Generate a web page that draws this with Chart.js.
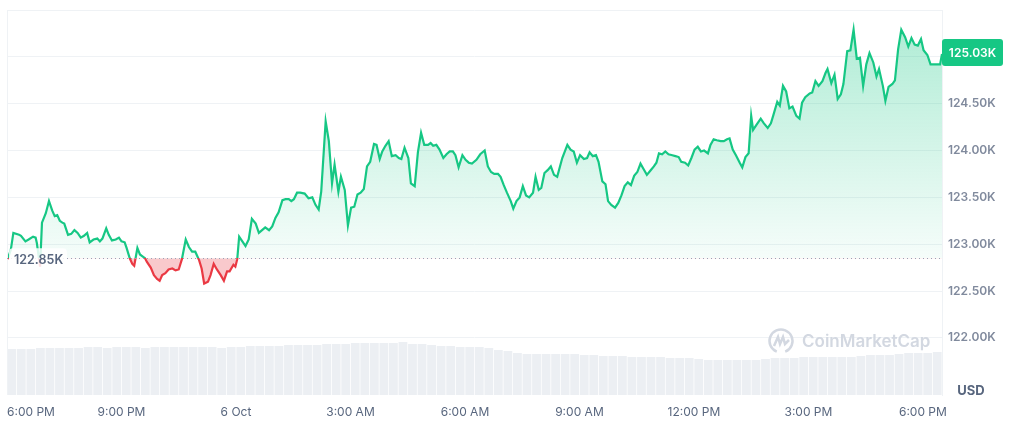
<!DOCTYPE html>
<html lang="en">
<head>
    <meta charset="UTF-8">
    <title>BTC 1D</title>
    <style>
        html, body { margin: 0; padding: 0; background: #fff; }
        .chartBox { width: 1023px; height: 422px; }
    </style>
</head>
<body>
    <div class="chartBox"><canvas id="chart"></canvas></div>

    <script src="https://cdn.jsdelivr.net/npm/chart.js"></script>
    <script>
        // minutes since 6:00 PM (day before)
        const times = [
            1, 6, 10, 19, 22, 29, 34, 41, 45, 47,
            52, 55, 61, 66, 71, 75, 79, 83, 87, 90,
            96, 101, 106, 111, 116, 121, 126, 130, 136, 142,
            146, 150, 156, 160, 165, 171, 176, 180, 185, 188,
            193, 197, 200, 205, 209, 213, 217, 220, 226, 231,
            236, 240, 244, 249, 254, 260, 265, 270, 275, 281,
            286, 291, 296, 302, 306, 310, 316, 320, 325, 330,
            336, 341, 346, 350, 356, 359, 362, 365, 370, 375,
            380, 385, 391, 396, 401, 406, 412, 417, 422, 427,
            433, 438, 443, 447, 451, 456, 461, 468, 474, 480,
            485, 490, 494, 501, 506, 511, 515, 521, 525, 531,
            536, 541, 546, 551, 556, 561, 566, 571, 577, 581,
            586, 590, 595, 600, 605, 611, 616, 620, 625, 631,
            635, 641, 646, 651, 656, 662, 666, 670, 675, 680,
            686, 691, 696, 701, 705, 710, 716, 721, 726, 731,
            738, 744, 751, 756, 761, 766, 772, 776, 781, 786,
            792, 796, 801, 806, 811, 816, 821, 827, 831, 836,
            840, 845, 850, 855, 860, 865, 873, 881, 886, 891,
            896, 901, 907, 912, 916, 921, 926, 930, 936, 941,
            945, 950, 956, 961, 966, 971, 976, 981, 986, 991,
            996, 1001, 1006, 1012, 1017, 1021, 1025, 1030, 1035, 1040,
            1046, 1051, 1056, 1060, 1066, 1071, 1076, 1081, 1086, 1091,
            1096, 1102, 1106, 1111, 1116, 1122, 1127, 1132, 1136, 1141,
            1146, 1152, 1156, 1161, 1166, 1170, 1173, 1178, 1185, 1190,
            1196, 1201, 1205, 1211, 1215, 1220, 1225, 1230, 1235, 1241,
            1246, 1250, 1255, 1262, 1266, 1271, 1276, 1282, 1287, 1290,
            1296, 1301, 1306, 1311, 1315, 1321, 1326, 1331, 1336, 1341,
            1346, 1351, 1356, 1362, 1367, 1371, 1377, 1381, 1386, 1392,
            1396, 1401, 1406, 1412, 1417, 1422, 1427, 1432, 1437, 1441,
            1447, 1452, 1457, 1462, 1467, 1470
        ];

        // price in thousands USD
        const prices = [
            122.84, 122.94, 123.12, 123.10, 123.09, 123.03, 123.05, 123.08, 123.07, 123.01,
            122.76, 123.23, 123.33, 123.46, 123.36, 123.30, 123.31, 123.25, 123.23, 123.22,
            123.10, 123.11, 123.15, 123.12, 123.07, 123.09, 123.12, 123.02, 123.05, 123.06,
            123.03, 123.06, 123.17, 123.10, 123.04, 123.05, 123.07, 123.03, 123.02, 122.96,
            122.85, 122.79, 122.77, 122.96, 122.89, 122.87, 122.85, 122.81, 122.75, 122.67,
            122.63, 122.61, 122.67, 122.69, 122.73, 122.74, 122.72, 122.73, 122.84, 123.05,
            122.97, 122.92, 122.92, 122.83, 122.74, 122.58, 122.60, 122.67, 122.79, 122.73,
            122.67, 122.61, 122.71, 122.71, 122.78, 122.76, 122.84, 123.08, 123.03, 122.98,
            123.05, 123.27, 123.22, 123.12, 123.15, 123.18, 123.15, 123.19, 123.28, 123.34,
            123.47, 123.48, 123.48, 123.46, 123.48, 123.55, 123.55, 123.54, 123.49, 123.50,
            123.42, 123.37, 123.56, 124.31, 124.10, 123.65, 123.85, 123.56, 123.72, 123.58,
            123.20, 123.39, 123.40, 123.53, 123.55, 123.59, 123.83, 123.88, 124.07, 124.06,
            123.91, 123.99, 124.05, 124.10, 123.94, 123.95, 123.92, 123.91, 124.03, 123.92,
            123.65, 123.62, 123.98, 124.19, 124.06, 124.06, 124.08, 124.05, 124.06, 124.01,
            123.92, 123.96, 123.99, 123.99, 123.95, 123.82, 123.95, 123.90, 123.87, 123.86,
            123.90, 123.96, 124.00, 123.83, 123.77, 123.75, 123.75, 123.72, 123.63, 123.55,
            123.46, 123.38, 123.46, 123.50, 123.62, 123.52, 123.50, 123.55, 123.72, 123.58,
            123.60, 123.76, 123.79, 123.83, 123.74, 123.72, 123.92, 124.06, 124.01, 123.99,
            123.87, 123.95, 123.91, 123.92, 123.98, 123.94, 123.95, 123.88, 123.67, 123.64,
            123.46, 123.42, 123.39, 123.44, 123.52, 123.62, 123.66, 123.63, 123.73, 123.77,
            123.86, 123.80, 123.74, 123.79, 123.83, 123.87, 123.97, 123.96, 123.99, 123.96,
            123.95, 123.94, 123.93, 123.88, 123.87, 123.84, 123.92, 124.01, 124.04, 123.99,
            124.00, 123.97, 124.06, 124.12, 124.11, 124.10, 124.10, 124.12, 124.13, 124.01,
            123.95, 123.87, 123.82, 123.93, 123.97, 124.37, 124.22, 124.27, 124.34, 124.29,
            124.24, 124.29, 124.38, 124.52, 124.48, 124.69, 124.63, 124.45, 124.47, 124.37,
            124.34, 124.51, 124.57, 124.61, 124.62, 124.74, 124.69, 124.74, 124.83, 124.87,
            124.72, 124.81, 124.55, 124.60, 124.71, 125.06, 125.07, 125.29, 124.98, 124.99,
            124.69, 124.92, 125.04, 124.94, 124.79, 124.87, 124.69, 124.53, 124.68, 124.71,
            124.75, 125.08, 125.29, 125.21, 125.11, 125.20, 125.13, 125.12, 125.19, 125.07,
            125.02, 124.92, 124.92, 124.92, 124.92, 125.03
        ];

        // 15 min volume bars, millions USD
        const volumes = [
            230, 230, 230, 235, 235, 235, 235, 235, 240, 240,
            235, 240, 240, 240, 235, 240, 240, 240, 240, 240,
            240, 240, 235, 240, 240, 245, 245, 245, 245, 250,
            250, 250, 250, 255, 255, 255, 260, 260, 260, 260,
            260, 265, 255, 255, 250, 245, 245, 240, 240, 240,
            235, 225, 220, 210, 205, 205, 205, 205, 205, 205,
            200, 200, 195, 195, 195, 190, 190, 190, 190, 185,
            185, 185, 180, 175, 175, 175, 175, 175, 175, 180,
            185, 185, 185, 190, 190, 190, 190, 190, 190, 195,
            200, 200, 200, 205, 210, 210, 210, 215
        ];

        const tickTimes = [0, 180, 360, 540, 720, 900, 1080, 1260, 1440];
        const tickLabels = ['6:00 PM', '9:00 PM', '6 Oct', '3:00 AM', '6:00 AM', '9:00 AM', '12:00 PM', '3:00 PM', '6:00 PM'];
        const priceTicks = [122.0, 122.5, 123.0, 123.5, 124.0, 124.5, 125.0, 125.5];
        const openPrice = 122.85;
        const endTime = 1470;

        const green = '#16c784';
        const red = '#ea3943';

        const n = Math.min(times.length, prices.length);
        const linePoints = [];
        for (let i = 0; i < n; i++) linePoints.push({ x: times[i], y: prices[i] });
        const volPoints = volumes.map((v, i) => ({ x: i * 15 + 7.5, y: v }));

        function roundRect(c, x, y, w, h, r) {
            c.beginPath();
            c.moveTo(x + r, y);
            c.lineTo(x + w - r, y);
            c.quadraticCurveTo(x + w, y, x + w, y + r);
            c.lineTo(x + w, y + h - r);
            c.quadraticCurveTo(x + w, y + h, x + w - r, y + h);
            c.lineTo(x + r, y + h);
            c.quadraticCurveTo(x, y + h, x, y + h - r);
            c.lineTo(x, y + r);
            c.quadraticCurveTo(x, y, x + r, y);
            c.closePath();
        }

        const extras = {
            id: 'extras',
            afterDatasetsDraw(chart) {
                const c = chart.ctx;
                const area = chart.chartArea;
                const ys = chart.scales.y;
                const yOpen = ys.getPixelForValue(openPrice);

                // left border
                c.save();
                c.strokeStyle = '#eff2f5';
                c.lineWidth = 1;
                c.beginPath();
                c.moveTo(area.left + 0.5, area.top);
                c.lineTo(area.left + 0.5, area.bottom);
                c.stroke();

                // open price dotted line
                c.strokeStyle = '#9aa2b5';
                c.setLineDash([1, 3]);
                c.beginPath();
                c.moveTo(area.left, Math.round(yOpen) + 0.5);
                c.lineTo(area.right, Math.round(yOpen) + 0.5);
                c.stroke();
                c.setLineDash([]);

                // watermark
                c.fillStyle = '#d3d8e1';
                c.strokeStyle = '#d3d8e1';
                c.lineWidth = 2.5;
                const lx = area.right - 161, ly = area.bottom - 54;
                c.beginPath();
                c.arc(lx, ly, 11.5, Math.PI * 0.62, Math.PI * 2.38, false);
                c.stroke();
                c.beginPath();
                c.moveTo(lx - 7, ly + 5);
                c.lineTo(lx - 3, ly - 4);
                c.lineTo(lx - 1, ly + 3);
                c.lineTo(lx + 2, ly - 4);
                c.lineTo(lx + 4, ly + 3);
                c.lineTo(lx + 8, ly - 1);
                c.stroke();
                c.font = '600 17px Inter';
                c.textAlign = 'left';
                c.textBaseline = 'middle';
                c.fillText('CoinMarketCap', lx + 21, ly + 1);

                // open price label
                c.fillStyle = 'rgba(255,255,255,0.85)';
                roundRect(c, area.left + 2, yOpen - 10, 58, 21, 4);
                c.fill();
                c.fillStyle = '#58667e';
                c.font = '600 12.5px Inter';
                c.textAlign = 'left';
                c.fillText(openPrice.toFixed(2) + 'K', area.left + 7, yOpen + 2);

                // last price badge
                const last = prices[n - 1];
                const yLast = ys.getPixelForValue(last);
                c.fillStyle = green;
                roundRect(c, area.right, yLast - 15, 61, 27, 3);
                c.fill();
                c.fillStyle = '#ffffff';
                c.font = '600 12px Inter';
                c.textAlign = 'center';
                c.fillText(last.toFixed(2) + 'K', area.right + 30.5, yLast - 1);

                // currency
                c.fillStyle = '#58667e';
                c.font = '700 13px Inter';
                c.fillText('USD', area.right + 29, area.bottom - 4);
                c.restore();
            }
        };

        const config = {
            type: 'line',
            data: {
                datasets: [{
                    type: 'line',
                    data: linePoints,
                    yAxisID: 'y',
                    borderWidth: 2.2,
                    pointRadius: 0,
                    tension: 0,
                    borderColor: (ctx) => {
                        const { chart } = ctx;
                        const area = chart.chartArea;
                        if (!area) return green;
                        const y0 = chart.scales.y.getPixelForValue(openPrice);
                        const f = Math.min(Math.max((y0 - area.top) / (area.bottom - area.top), 0), 1);
                        const g = chart.ctx.createLinearGradient(0, area.top, 0, area.bottom);
                        g.addColorStop(0, green);
                        g.addColorStop(f, green);
                        g.addColorStop(f, red);
                        g.addColorStop(1, red);
                        return g;
                    },
                    backgroundColor: (ctx) => {
                        const { chart } = ctx;
                        const area = chart.chartArea;
                        if (!area) return 'rgba(22,199,132,0.15)';
                        const y0 = chart.scales.y.getPixelForValue(openPrice);
                        const g = chart.ctx.createLinearGradient(0, area.top, 0, y0);
                        g.addColorStop(0, 'rgba(22,199,132,0.36)');
                        g.addColorStop(1, 'rgba(22,199,132,0.04)');
                        return g;
                    },
                    fill: { target: { value: openPrice }, below: 'rgba(234,57,67,0.27)' },
                    order: 1
                }, {
                    type: 'bar',
                    data: volPoints,
                    yAxisID: 'yv',
                    backgroundColor: '#eceff3',
                    barPercentage: 1,
                    categoryPercentage: 0.92,
                    order: 2
                }]
            },
            options: {
                responsive: true,
                maintainAspectRatio: false,
                animation: false,
                layout: { padding: { top: 10, left: 7, right: 25, bottom: 0 } },
                plugins: { legend: { display: false }, tooltip: { enabled: false } },
                scales: {
                    x: {
                        type: 'linear',
                        min: 0,
                        max: endTime,
                        offset: false,
                        afterBuildTicks: (s) => {
                            s.ticks = tickTimes.map(v => ({ value: v })).concat([{ value: endTime }]);
                        },
                        afterFit: (s) => {
                            s.height = 27;
                            s.paddingLeft = 0;
                            s.paddingRight = 0;
                        },
                        grid: {
                            drawTicks: false,
                            offset: false,
                            color: 'transparent'
                        },
                        border: { display: false },
                        ticks: {
                            align: 'inner',
                            autoSkip: false,
                            maxRotation: 0,
                            padding: 10,
                            color: '#58667e',
                            font: { family: 'Inter', size: 12 },
                            callback: (v, i) => tickLabels[i] ?? ''
                        }
                    },
                    y: {
                        position: 'right',
                        min: 121.39,
                        max: 125.5,
                        afterBuildTicks: (s) => {
                            s.ticks = priceTicks.map(v => ({ value: v }));
                        },
                        afterFit: (s) => {
                            s.width = 56;
                            s.paddingTop = 0;
                            s.paddingBottom = 0;
                        },
                        grid: { color: '#eff2f5', drawTicks: false },
                        border: { display: true, color: '#eff2f5' },
                        ticks: {
                            padding: 6,
                            color: '#808a9d',
                            font: { family: 'Inter', size: 12, weight: '600' },
                            callback: (v) => v >= 125.5 ? '' : v.toFixed(2) + 'K'
                        }
                    },
                    yv: {
                        display: false,
                        min: 0,
                        max: 1925
                    }
                }
            },
            plugins: [extras]
        };

        const myChart = new Chart(document.getElementById('chart'), config);
    </script>
</body>
</html>
